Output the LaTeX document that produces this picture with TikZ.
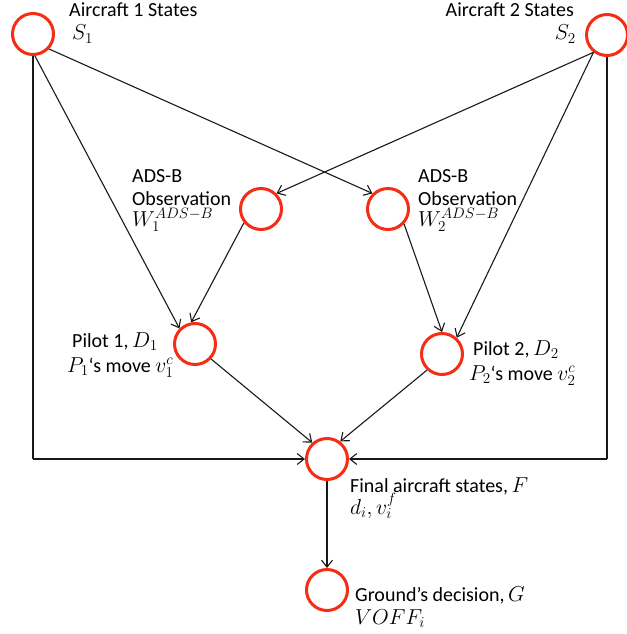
\RequirePackage{fix-cm}
\documentclass[tikz,border=0pt]{standalone}
\usepackage{fontspec}
\setmainfont{Carlito}
\usetikzlibrary{arrows.meta}
\definecolor{nodered}{RGB}{245,45,20}
\newcommand\mth[1]{{\fontsize{21.6}{24}\selectfont$#1$}}
\begin{document}
\begin{tikzpicture}[x=1pt,y=-1pt,
  state/.style={circle,draw=nodered,line width=3pt,minimum size=41pt,inner sep=0pt},
  lbl/.style={inner sep=0pt,anchor=base west,font=\fontsize{20}{24}\selectfont},
  lblr/.style={lbl,anchor=base east},
  edge/.style={line width=1.1pt,draw=black!90,-{Straight Barb[length=7pt,width=11pt]}},
  plain/.style={line width=1.1pt,draw=black!90}]
\useasboundingbox (0,0) rectangle (626,634);
% state nodes
\node[state] (s1) at (33,34) {};
\node[state] (s2) at (607,35) {};
\node[state] (w1) at (261,209) {};
\node[state] (w2) at (388,209) {};
\node[state] (d1) at (195,344) {};
\node[state] (d2) at (442,354) {};
\node[state] (f) at (327,459) {};
\node[state] (g) at (327,590) {};
% labels
\node[lbl] (ls1) at (69,17) {Aircraft 1 States};
\node[lbl] (ls1m) at (72,40) {\mth{S_1}};
\node[lblr] (ls2) at (574,17) {Aircraft 2 States};
\node[lblr] (ls2m) at (576,40) {\mth{S_2}};
\node[lbl] (lw1a) at (132,182) {ADS-B};
\node[lbl] (lw1b) at (132,205) {Observation};
\node[lbl] (lw1c) at (132,226) {\mth{W_1^{ADS-B}}};
\node[lbl] (lw2a) at (418,182) {ADS-B};
\node[lbl] (lw2b) at (418,205) {Observation};
\node[lbl] (lw2c) at (418,226) {\mth{W_2^{ADS-B}}};
\node[lbl] (ld1a) at (72,347) {Pilot 1,\mth{\,D_1}};
\node[lbl] (ld1b) at (67,372) {\mth{P_1}‘s move \mth{v_1^c}};
\node[lbl] (ld2a) at (473,355) {Pilot 2,\mth{\,D_2}};
\node[lbl] (ld2b) at (469,380) {\mth{P_2}‘s move \mth{v_2^c}};
\node[lbl] (lfa) at (350,492) {Final aircraft states,\mth{\,F}};
\node[lbl] (lfb) at (350,514) {\mth{d_i, v_i^f}};
\node[lbl] (lga) at (355,601) {Ground’s decision,\mth{\,G}};
\node[lbl] (lgb) at (355,624) {\mth{VOFF_i}};
% connectors
\draw[edge] (s1.-43) -- (w2.135);
\draw[edge] (s2.232) -- (w1.45);
\draw[edge] (s1.-85) -- (d1.135);
\draw[edge] (w1.219) -- (d1.100);
\draw[edge] (w2.-43) -- (d2.90);
\draw[edge] (s2.232) -- (d2.48);
\draw[edge] (d1.-43) -- (f.132);
\draw[edge] (d2.227) -- (f.53);
\coordinate (cl) at (s1.south |- f.west);
\coordinate (cr) at (s2.south |- f.east);
\draw[plain] (s1.south) -- (cl);
\draw[edge] (cl) -- (f.west);
\draw[plain] (s2.south) -- (cr);
\draw[edge] (cr) -- (f.east);
\draw[edge] (f.south) -- (g.north);
\end{tikzpicture}
\end{document}
